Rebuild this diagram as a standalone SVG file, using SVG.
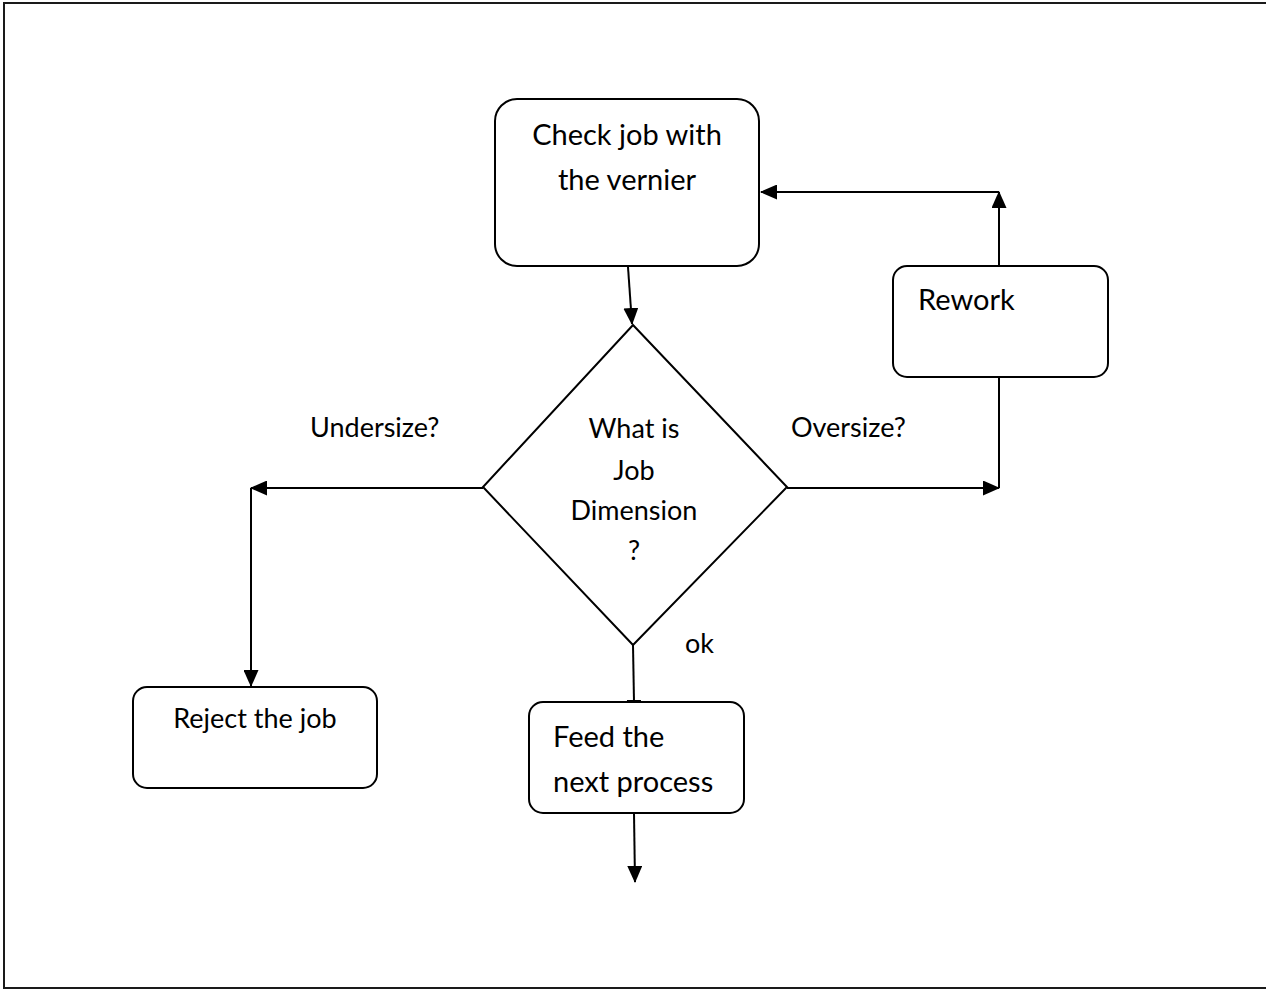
<svg xmlns="http://www.w3.org/2000/svg" width="1266" height="990" viewBox="0 0 1266 990">
  <style>
    .node { fill: #ffffff; stroke: #000000; stroke-width: 2; }
    .txt { font-family: Lato, "Liberation Sans", sans-serif; font-size: 29px; fill: #000000; }
    .small { font-size: 27px; }
    .mid { text-anchor: middle; }
    .edge { fill: none; stroke: #000000; stroke-width: 2; }
  </style>
  <defs>
    <marker id="arrow" markerUnits="userSpaceOnUse" markerWidth="17" markerHeight="15" refX="16" refY="7.5" orient="auto">
      <path d="M0,0 L17,7.5 L0,15 Z" fill="#000000"/>
    </marker>
    <marker id="bar" markerUnits="userSpaceOnUse" markerWidth="4" markerHeight="16" refX="2" refY="8" orient="auto">
      <rect x="0" y="1" width="3" height="14" fill="#000000"/>
    </marker>
  </defs>

  <!-- page frame -->
  <rect x="4" y="3" width="1270" height="985" fill="#ffffff" stroke="#1a1a1a" stroke-width="2"/>

  <!-- connectors -->
  <g id="connectors">
    <path class="edge" d="M628,267 L632,324" marker-end="url(#arrow)"/>
    <path class="edge" d="M483,488 L251,488" marker-end="url(#arrow)"/>
    <path class="edge" d="M251,488 L251,686" marker-end="url(#arrow)"/>
    <path class="edge" d="M787,488 L999,488" marker-end="url(#arrow)"/>
    <path class="edge" d="M999,488 L999,377"/>
    <path class="edge" d="M999,266 L999,192" marker-end="url(#arrow)"/>
    <path class="edge" d="M999,192 L761,192" marker-end="url(#arrow)"/>
    <path class="edge" d="M633,645 L634,702" marker-end="url(#bar)"/>
    <path class="edge" d="M634,813 L635,882" marker-end="url(#arrow)"/>
  </g>

  <!-- nodes -->
  <g id="check">
    <rect class="node" x="495" y="99" width="264" height="167" rx="22"/>
    <text class="txt mid" x="627" y="145">Check job with</text>
    <text class="txt mid" x="627" y="190">the vernier</text>
  </g>

  <g id="decision">
    <polygon class="node" points="633,325 787,487 633,645 483,487"/>
    <text class="txt small mid" x="634" y="438">What is</text>
    <text class="txt small mid" x="634" y="480">Job</text>
    <text class="txt small mid" x="634" y="520">Dimension</text>
    <text class="txt small mid" x="634" y="560">?</text>
  </g>

  <g id="rework">
    <rect class="node" x="893" y="266" width="215" height="111" rx="14"/>
    <text class="txt" x="918" y="310">Rework</text>
  </g>

  <g id="reject">
    <rect class="node" x="133" y="687" width="244" height="101" rx="14"/>
    <text class="txt small mid" x="255" y="728">Reject the job</text>
  </g>

  <g id="feed">
    <rect class="node" x="529" y="702" width="215" height="111" rx="14"/>
    <text class="txt" x="553" y="747">Feed the</text>
    <text class="txt" x="553" y="792">next process</text>
  </g>

  <!-- branch labels -->
  <g id="labels">
    <text class="txt small" x="310" y="437">Undersize?</text>
    <text class="txt small" x="791" y="437">Oversize?</text>
    <text class="txt small" x="685" y="653">ok</text>
  </g>
</svg>
